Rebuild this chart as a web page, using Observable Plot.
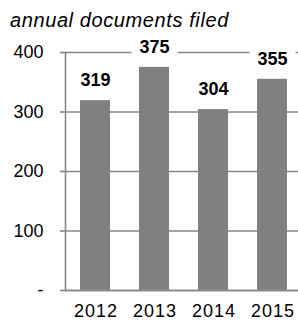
<!DOCTYPE html>
<html>
<head>
<meta charset="utf-8">
<script src="https://cdn.jsdelivr.net/npm/d3@7"></script>
<script src="https://cdn.jsdelivr.net/npm/@observablehq/plot@0.6"></script>
<style>
  body { margin: 0; background: #fff; font-family: "Liberation Sans", Arial, sans-serif; }
  #title { box-sizing: border-box; height: 36px; padding: 10px 0 0 10px; font-size: 20px; line-height: 20px; font-style: italic; letter-spacing: 0.6px; color: #000; }
</style>
</head>
<body>
<div id="title">annual documents filed</div>
<div id="chart"></div>
<script>
const years = ["2012", "2013", "2014", "2015"];
const documents = [319, 375, 304, 355];
const yTicks = [0, 100, 200, 300, 400];

const data = years.map((year, i) => ({year, value: documents[i]}));

const chart = Plot.plot({
  width: 298,
  height: 287,
  marginTop: 16,
  marginBottom: 33,
  marginLeft: 65,
  marginRight: 0,
  style: {fontFamily: "'Liberation Sans', Arial, sans-serif", fontSize: "18px", color: "#000", background: "#fff"},
  x: {domain: years, range: [65, 301], paddingInner: 0.5, paddingOuter: 0.25, align: 0.5},
  y: {domain: [0, 400]},
  marks: [
    Plot.ruleY(yTicks.filter(d => d > 0), {stroke: "#868686", strokeWidth: 1.6, strokeOpacity: 1}),
    Plot.barY(data, {x: "year", y: "value", fill: "#808080"}),
    Plot.ruleY([0], {stroke: "#8c8c8c", strokeWidth: 2.2}),
    Plot.frame({anchor: "left", stroke: "#868686", strokeWidth: 1.6}),
    Plot.axisY({ticks: yTicks, tickSize: 5, tickPadding: 17, stroke: "#868686", strokeWidth: 1.6, strokeOpacity: 1,
      tickFormat: d => d === 0 ? "-" : String(d), label: null, fontSize: 18}),
    Plot.axisX({tickSize: 0, tickPadding: 14, label: null, fontSize: 18}),
    Plot.text(data, {x: "year", y: "value", text: d => String(d.value), dy: -20, lineAnchor: "middle",
      fontWeight: "bold", fontSize: 18, fill: "#000", stroke: "white", strokeWidth: 18})
  ]
});
document.getElementById("chart").appendChild(chart);
d3.select(chart).selectAll("g[aria-label='x-axis tick label'] text").style("letter-spacing", "1px").attr("dx", "0.5");
</script>
</body>
</html>
